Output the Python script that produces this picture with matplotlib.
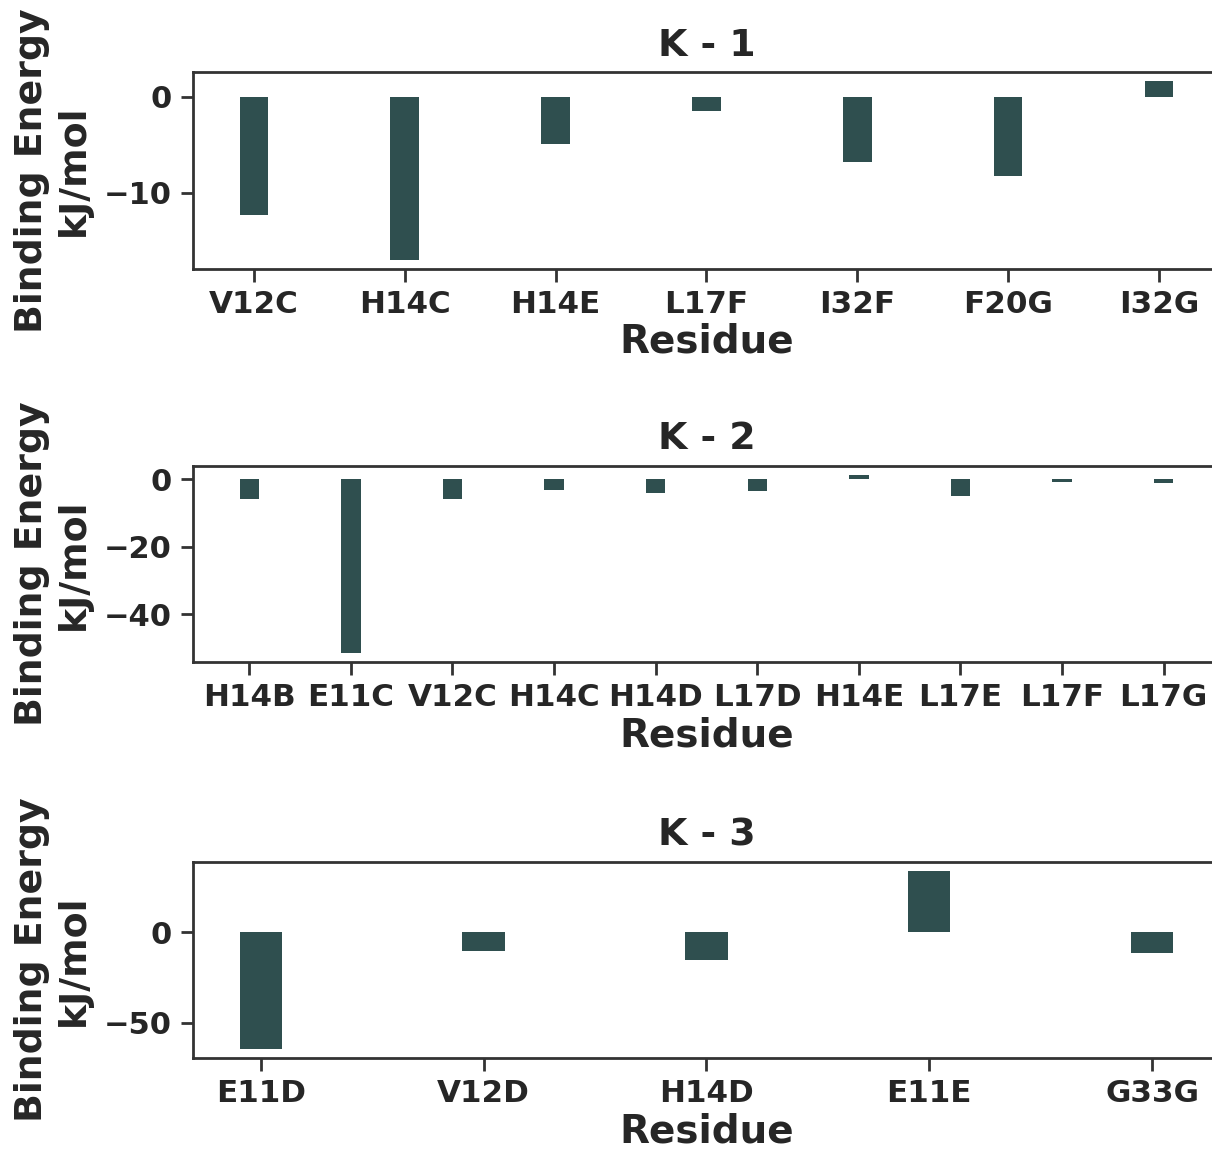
import matplotlib
matplotlib.use("Agg")
import matplotlib.pyplot as plt

# residues and binding energies (kJ/mol) for each complex
k1_residues = ["V12C", "H14C", "H14E", "L17F", "I32F", "F20G", "I32G"]
k1_energy = [-12.3, -17.0, -4.9, -1.5, -6.8, -8.3, 1.6]

k2_residues = ["H14B", "E11C", "V12C", "H14C", "H14D", "L17D", "H14E", "L17E", "L17F", "L17G"]
k2_energy = [-5.8, -51.6, -5.8, -3.1, -4.1, -3.5, 1.4, -5.0, -0.8, -1.0]

k3_residues = ["E11D", "V12D", "H14D", "E11E", "G33G"]
k3_energy = [-64.9, -10.3, -15.3, 34.1, -11.6]

panels = [
    ("K - 1", k1_residues, k1_energy, [-10, 0]),
    ("K - 2", k2_residues, k2_energy, [-40, -20, 0]),
    ("K - 3", k3_residues, k3_energy, [-50, 0]),
]

text_color = "#262626"
plt.rcParams["font.family"] = "DejaVu Sans"
plt.rcParams["font.weight"] = "bold"

fig = plt.figure(figsize=(12.12, 11.53), dpi=100)

# axes run slightly past the right edge of the figure
bottoms = [0.7667, 0.4256, 0.0821]
for (title, residues, energy, yt), b in zip(panels, bottoms):
    ax = fig.add_axes([0.1592, b, 0.8474, 0.1705])
    ax.bar(range(len(residues)), energy, width=0.19, color="#2F4F4F")
    ax.set_xticks(range(len(residues)))
    ax.set_xticklabels(residues, fontsize=22.3, fontweight="bold", color=text_color)
    ax.set_yticks(yt)
    ax.tick_params(axis="y", labelsize=22, labelcolor=text_color)
    ax.tick_params(length=9, width=2, color="#333333", pad=6)
    for lbl in ax.get_yticklabels():
        lbl.set_fontweight("bold")
    for sp in ax.spines.values():
        sp.set_linewidth(2)
        sp.set_color("#333333")
    ax.set_title(title, fontsize=27.3, fontweight="bold", color=text_color, pad=12)
    ax.set_xlabel("Residue", fontsize=28, fontweight="bold", color=text_color, labelpad=3)
    ax.set_ylabel("Binding Energy\nkJ/mol", fontsize=27.3, fontweight="bold",
                  color=text_color, linespacing=1.2, labelpad=9)

fig.savefig("out.png", dpi=100)
